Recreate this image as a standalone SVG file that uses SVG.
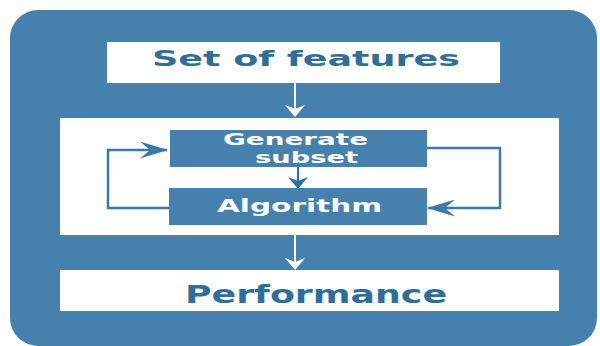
<svg xmlns="http://www.w3.org/2000/svg" width="600" height="346" viewBox="0 0 600 346">
<style>
.blue{fill:#4681ad}
.white{fill:#ffffff}
.t{font-family:"DejaVu Sans","Liberation Sans",sans-serif;font-weight:bold}
.dark{fill:#2f6e99}
.lt{fill:#ffffff}
.cw{stroke:#ffffff;stroke-width:2;fill:none}
.cb{stroke:#3d78a6;stroke-width:2.5;fill:none}
.cm{stroke:#2a70b0;stroke-width:2;fill:none}
</style>
<defs>
<marker id="aw" viewBox="0 0 12 20" refX="11" refY="10" markerWidth="12" markerHeight="20" markerUnits="userSpaceOnUse" orient="auto">
<path d="M0,0 L12,10 L0,20 L4,10 z" fill="#ffffff"/>
</marker>
<marker id="awb" viewBox="0 0 12 20" refX="11" refY="10" markerWidth="12" markerHeight="20" markerUnits="userSpaceOnUse" orient="auto">
<path d="M0,0 L12,10 L0,20 L4,10 z" fill="#2a70b0"/>
</marker>
<marker id="al" viewBox="0 0 28 17" refX="27" refY="8.5" markerWidth="28" markerHeight="17" markerUnits="userSpaceOnUse" orient="auto">
<path d="M0,0 L28,8.5 L0,17 L10,8.5 z" fill="#3d78a6"/>
</marker>
</defs>
<rect x="0" y="0" width="600" height="346" fill="#ffffff"/>
<rect id="frame" x="10" y="10" width="587" height="336" rx="28" class="blue"/>
<rect x="60" y="118" width="499" height="117" class="white"/>
<g id="connectors">
<line x1="295" y1="83" x2="295" y2="116" class="cw" marker-end="url(#aw)"/>
<line x1="298" y1="167" x2="298" y2="188" class="cm" marker-end="url(#awb)"/>
<line x1="295" y1="235" x2="295" y2="269" class="cw" marker-end="url(#aw)"/>
<polyline points="169,208 108,208 108,150 167,150" class="cb" marker-end="url(#al)"/>
<polyline points="427,148 500,148 500,208 428,208" class="cb" marker-end="url(#al)"/>
</g>
<g id="set-of-features">
<rect x="107" y="42" width="393" height="41" class="white"/>
<text x="152" y="66" class="t dark" font-size="21" textLength="308" lengthAdjust="spacingAndGlyphs">Set of features</text>
</g>
<g id="generate-subset">
<rect x="170" y="130" width="257" height="37" class="blue"/>
<text x="223" y="145" class="t lt" font-size="15" textLength="145" lengthAdjust="spacingAndGlyphs">Generate</text>
<text x="255" y="163" class="t lt" font-size="15" textLength="103" lengthAdjust="spacingAndGlyphs">subset</text>
</g>
<g id="algorithm">
<rect x="169" y="188" width="258" height="37" class="blue"/>
<text x="217" y="212" class="t lt" font-size="18" textLength="165" lengthAdjust="spacingAndGlyphs">Algorithm</text>
</g>
<g id="performance">
<rect x="60" y="270" width="499" height="41" class="white"/>
<text x="185" y="303" class="t dark" font-size="25" textLength="262" lengthAdjust="spacingAndGlyphs">Performance</text>
</g>
</svg>
